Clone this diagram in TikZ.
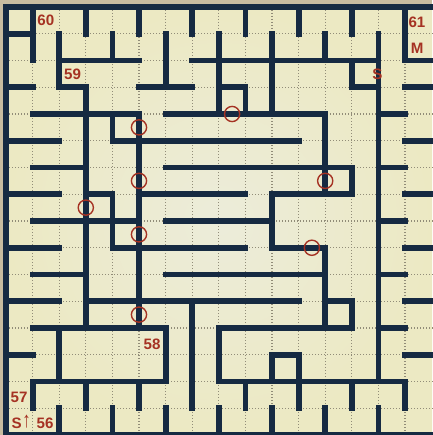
\documentclass[tikz,border=0pt]{standalone}
\usepackage{fontspec}
\setmainfont{Liberation Sans}
\definecolor{wallc}{RGB}{22,42,66}
\definecolor{redc}{RGB}{165,50,35}
\definecolor{dotc}{RGB}{145,140,120}
\definecolor{paper}{RGB}{236,233,195}
\definecolor{paperin}{RGB}{236,236,218}
\definecolor{edgec}{RGB}{200,188,160}
\begin{document}
\begin{tikzpicture}[x=1.33cm,y=-1.3375cm,
  wall/.style={draw=wallc,line width=0.29cm,line cap=rect},
  gridl/.style={draw=dotc,line width=0.055cm,dash pattern=on 0.05cm off 0.1cm},
  ring/.style={draw=redc,line width=0.07cm},
  lab/.style={text=redc,font=\fontsize{21.5}{24}\selectfont\bfseries,inner sep=0pt}]
\useasboundingbox (-0.2256,-0.2617) rectangle (16.015,16.0);
\fill[edgec] (-0.2256,-0.2617) rectangle (16.015,16.0);
\fill[paper] (0,0) rectangle (16.015,16.0);
\shade[inner color=paperin, outer color=paper] (0,0) rectangle (16.015,16);
\foreach \i in {1,...,15} {
  \draw[gridl] (\i,0) -- (\i,16);
  \draw[gridl] (0,\i) -- (16.1,\i);
}
% horizontal walls: row / from col / to col
\foreach \r/\a/\b in {0/0/16.2, 1/0/1, 2/2/5, 2/7/14, 2/15/16.2, 3/0/1, 3/2/3, 3/5/7, 3/8/9, 3/13/14, 3/15/16.2,
  4/1/5, 4/6/12, 4/14/15, 5/0/2, 5/4/11, 5/15/16.2, 6/1/3, 6/6/13, 6/14/15,
  7/0/2, 7/3/4, 7/5/9, 7/10/13, 7/15/16.2, 8/1/5, 8/6/10, 8/14/15,
  9/0/2, 9/4/9, 9/10/12, 9/15/16.2, 10/1/3, 10/6/12, 10/14/15,
  11/0/2, 11/3/11, 11/12/13, 11/15/16.2, 12/1/6, 12/8/13, 12/14/15,
  13/0/1, 13/10/11, 13/15/16.2, 14/1/6, 14/8/15, 16/0/16.2}
  \draw[wall] (\a,\r) -- (\b,\r);
% vertical walls: col / from row / to row
\foreach \c/\a/\b in {0/0/16, 1/0/2, 1/14/15, 2/1/3, 2/12/14, 2/15/16, 3/0/1, 3/3/12, 3/14/15,
  4/1/2, 4/4/5, 4/7/9, 4/15/16, 5/0/1, 5/4/12, 5/14/15, 6/1/3, 6/12/14, 6/15/16,
  7/0/1, 7/11/15, 8/1/4, 8/12/14, 8/15/16, 9/0/1, 9/3/4, 9/14/15,
  10/1/4, 10/7/9, 10/13/14, 10/15/16, 11/0/1, 11/13/15,
  12/1/2, 12/4/7, 12/9/12, 12/15/16, 13/0/1, 13/2/3, 13/6/7, 13/11/12, 13/14/15,
  14/1/14, 14/15/16, 15/0/2, 15/14/15}
  \draw[wall] (\c,\a) -- (\c,\b);
% red rings
\foreach \x/\y in {5/4.5, 8.5/4, 5/6.5, 12/6.5, 3/7.5, 5/8.5, 11.5/9, 5/11.5}
  \draw[ring] (\x,\y) circle[radius=0.38cm];
% labels
\node[lab] (l60) at (1.5,0.5) {60};
\node[lab] (l59) at (2.5,2.52) {59};
\node[lab] (l61) at (15.45,0.56) {61};
\node[lab] (lM) at (15.46,1.54) {M};
\node[lab] (lS) at (13.96,2.51) {S};
\node[lab] (l58) at (5.49,12.6) {58};
\node[lab] (l57) at (0.49,14.58) {57};
\node[lab] (lS2) at (0.40,15.55) {S};
\node[lab,font=\fontsize{21.5}{24}\selectfont] (larr) at (0.77,15.5) {\resizebox{0.42cm}{0.62cm}{↑}};
\node[lab] (l56) at (1.47,15.55) {56};
\end{tikzpicture}
\end{document}
